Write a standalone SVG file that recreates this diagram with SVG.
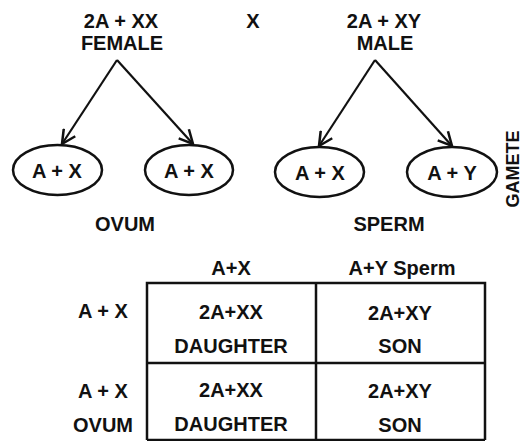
<svg xmlns="http://www.w3.org/2000/svg" width="524" height="441" viewBox="0 0 524 441">
<style>
text{font-family:"Liberation Sans",Arial,sans-serif;font-size:20px;font-weight:bold;fill:#111;text-anchor:middle}
.ov{fill:none;stroke:#111;stroke-width:2.5}
.ar{fill:none;stroke:#111;stroke-width:2.2;marker-end:url(#ah)}
.tb{fill:none;stroke:#111;stroke-width:2.5}
</style>
<defs>
<marker id="ah" markerUnits="userSpaceOnUse" markerWidth="16" markerHeight="16" refX="13" refY="7" viewBox="0 0 14 14" orient="auto">
<path d="M1,1 L13,7 L1,13" fill="none" stroke="#111" stroke-width="2.2"/>
</marker>
</defs>
<g id="female"><text x="121" y="28">2A + XX</text><text x="122" y="50">FEMALE</text></g>
<g id="cross"><text x="253" y="28">X</text></g>
<g id="male"><text x="384" y="28">2A + XY</text><text x="385" y="50">MALE</text></g>
<g id="ovum1"><ellipse class="ov" cx="57.5" cy="170" rx="44.5" ry="25"/><text x="57" y="178">A + X</text></g>
<g id="ovum2"><ellipse class="ov" cx="189" cy="170" rx="44" ry="25"/><text x="189" y="178">A + X</text></g>
<g id="sperm1"><ellipse class="ov" cx="319.5" cy="172" rx="44.5" ry="25"/><text x="320" y="180">A + X</text></g>
<g id="sperm2"><ellipse class="ov" cx="452" cy="172" rx="45" ry="25"/><text x="452" y="180">A + Y</text></g>
<g id="connectors">
<path class="ar" d="M117,60 L62,144"/>
<path class="ar" d="M117,60 L193,144"/>
<path class="ar" d="M375,60 L319,146"/>
<path class="ar" d="M375,60 L452,146"/>
</g>
<g id="labels">
<text x="125" y="231">OVUM</text>
<text x="389" y="231">SPERM</text>
<text transform="translate(519,169) rotate(-90)" style="font-size:18px">GAMETE</text>
</g>
<g id="table">
<path class="tb" d="M147,440 V283 H485 V440 M316,283 V440 M147,363 H485 M147,440 H485"/>
<text x="231" y="275">A+X</text>
<text x="402" y="275">A+Y Sperm</text>
<text x="103" y="318">A + X</text>
<text x="103" y="398">A + X</text>
<text x="103" y="432">OVUM</text>
<text x="231" y="319">2A+XX</text>
<text x="231" y="353">DAUGHTER</text>
<text x="231" y="397">2A+XX</text>
<text x="231" y="431">DAUGHTER</text>
<text x="400" y="320">2A+XY</text>
<text x="400" y="353">SON</text>
<text x="400" y="398">2A+XY</text>
<text x="400" y="432">SON</text>
</g>
</svg>
